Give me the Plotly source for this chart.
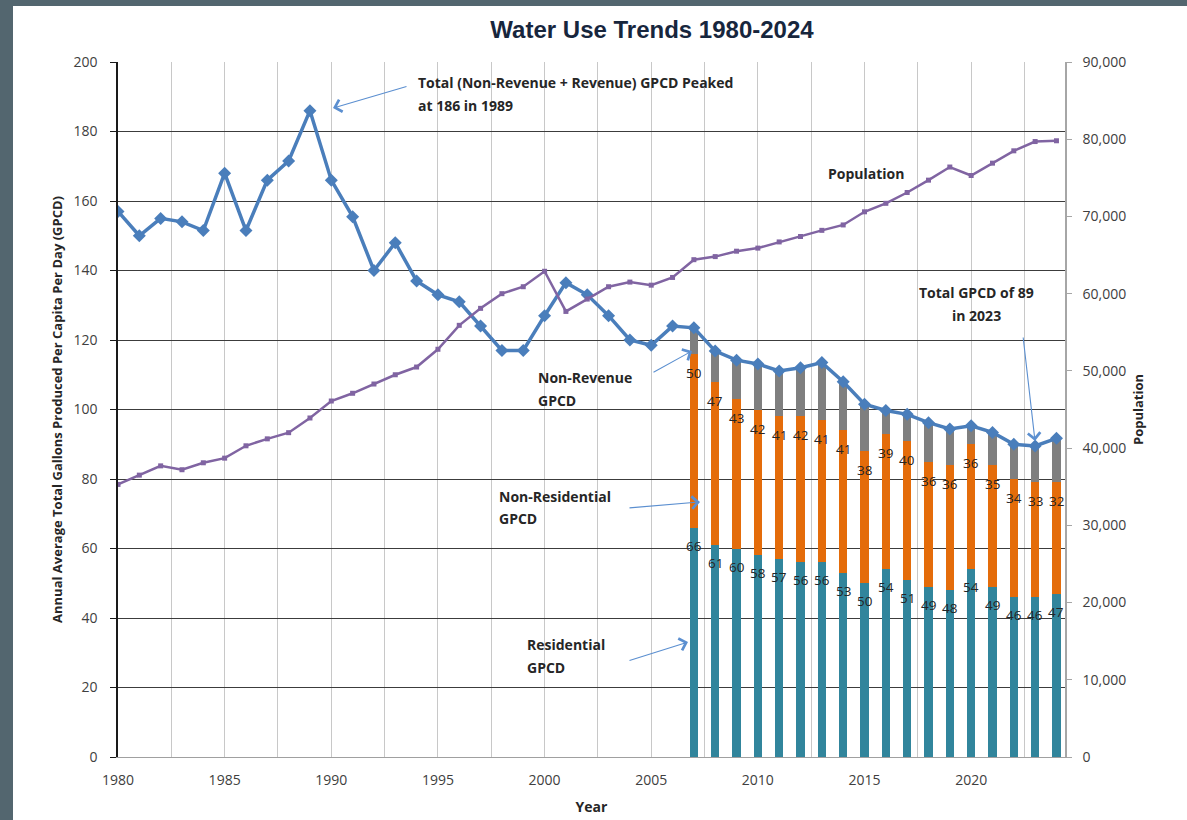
import plotly.graph_objects as go

# ---------------- data ----------------
years = list(range(1980, 2025))
total_gpcd = [157, 150, 155, 154, 151.5, 168, 151.5, 166, 171.5, 186,
              166, 155.5, 140, 148, 137, 133, 131, 124, 117, 117,
              127, 136.5, 133, 127, 120, 118.5, 124, 123.5, 116.8, 114.2,
              113.1, 111.1, 112, 113.5, 108, 101.5, 99.7, 98.6, 96.2, 94.4,
              95.3, 93.4, 90, 89.5, 91.7]
population = [35300, 36500, 37700, 37200, 38100, 38700, 40300, 41200, 42000, 43900,
              46100, 47100, 48300, 49500, 50500, 52800, 55900, 58100, 60000, 60900,
              62900, 57700, 59300, 60900, 61500, 61100, 62100, 64400, 64800, 65500,
              65900, 66700, 67400, 68200, 68900, 70600, 71700, 73100, 74700, 76400,
              75300, 76900, 78500, 79700, 79800]

bar_years = list(range(2007, 2025))
residential = [66, 61, 60, 58, 57, 56, 56, 53, 50, 54, 51, 49, 48, 54, 49, 46, 46, 47]
non_residential = [50, 47, 43, 42, 41, 42, 41, 41, 38, 39, 40, 36, 36, 36, 35, 34, 33, 32]
non_revenue = [7.5, 9, 11, 13, 13, 14, 16.5, 14, 13.5, 6.7, 7.6, 11.2, 10.4, 5.3, 9.4, 10, 10.5, 12.7]

x_ticks = [1980, 1985, 1990, 1995, 2000, 2005, 2010, 2015, 2020]

# ---------------- layout geometry ----------------
W, H = 1187, 820
PL, PR, PT, PB = 118, 1065, 62, 757
XMIN, XMAX = 1980, 2024.4
YMAX = 200


def X(px):
    return XMIN + (px - PL) * (XMAX - XMIN) / (PR - PL)


def Y(py):
    return (PB - py) * YMAX / (PB - PT)


def PX(px):
    return (px - PL) / (PR - PL)


def PY(py):
    return (PB - py) / (PB - PT)


TEAL = "#31859C"
ORANGE = "#E46C0A"
GRAY = "#7F7F7F"
BLUE = "#4A7EBB"
PURPLE = "#8064A2"
TXT = "#262626"
TICK = "#404040"
LBL_FONT = "Open Sans, Noto Sans, sans-serif"

fig = go.Figure()

fig.add_trace(go.Bar(x=bar_years, y=residential, name="Residential GPCD",
                     marker=dict(color=TEAL, line=dict(width=0)), width=0.38))
fig.add_trace(go.Bar(x=bar_years, y=non_residential, name="Non-Residential GPCD",
                     marker=dict(color=ORANGE, line=dict(width=0)), width=0.38))
fig.add_trace(go.Bar(x=bar_years, y=non_revenue, name="Non-Revenue GPCD",
                     marker=dict(color=GRAY, line=dict(width=0)), width=0.38))

fig.add_trace(go.Scatter(x=years, y=total_gpcd, mode="lines+markers", name="Total GPCD",
                         line=dict(color=BLUE, width=3.5),
                         marker=dict(symbol="diamond", size=10, color=BLUE)))
fig.add_trace(go.Scatter(x=years, y=population, mode="lines+markers", name="Population",
                         yaxis="y2", line=dict(color=PURPLE, width=2.5),
                         marker=dict(symbol="square", size=5, color=PURPLE)))

annotations = []
# data labels
for yr, r, n in zip(bar_years, residential, non_residential):
    annotations.append(dict(x=yr, y=r, xref="x", yref="y", text=str(r), showarrow=False,
                            yshift=-18, font=dict(family=LBL_FONT, size=13.5, color=TXT)))
    annotations.append(dict(x=yr, y=r + n, xref="x", yref="y", text=str(n), showarrow=False,
                            yshift=-19, font=dict(family=LBL_FONT, size=13.5, color=TXT)))

ann_font = dict(family=LBL_FONT, size=14, color=TXT, weight="bold")


def text_at(txt, px, py, anchor="left"):
    annotations.append(dict(x=X(px), y=Y(py), xref="x", yref="y", text=txt, showarrow=False,
                            xanchor=anchor, yanchor="middle", font=ann_font))


def arrow(hx, hy, tx, ty):
    annotations.append(dict(x=X(hx), y=Y(hy), ax=X(tx), ay=Y(ty), xref="x", yref="y",
                            axref="x", ayref="y", text="", showarrow=True,
                            arrowhead=4, arrowsize=2.2, arrowwidth=1.1, arrowcolor="#5B8FD0"))


text_at("Total (Non-Revenue + Revenue) GPCD Peaked", 416, 82)
text_at("at 186 in 1989", 416, 105)
arrow(333, 108, 408, 86)

text_at("Population", 866, 173, "center")

text_at("Total GPCD of 89", 976, 292, "center")
text_at("in 2023", 976, 315, "center")
arrow(1035, 441, 1023, 336)

text_at("Non-Revenue", 536, 377)
text_at("GPCD", 536, 400)
arrow(692, 351, 652, 373)

text_at("Non-Residential", 497, 496)
text_at("GPCD", 497, 518)
arrow(700, 502, 628, 508)

text_at("Residential", 525, 644)
text_at("GPCD", 525, 667)
arrow(688, 642, 628, 661)

shapes = [dict(type="rect", xref="paper", yref="paper", layer="below",
               x0=PX(13), x1=PX(W + 5), y0=PY(H + 5), y1=PY(6),
               fillcolor="white", line=dict(width=0))]

fig.update_layout(
    width=W, height=H,
    margin=dict(l=PL, r=W - PR, t=PT, b=H - PB, autoexpand=False),
    paper_bgcolor="#53666F",
    plot_bgcolor="white",
    barmode="stack",
    bargap=0,
    showlegend=False,
    title=dict(text="<b>Water Use Trends 1980-2024</b>", x=652 / W, xanchor="center",
               y=1 - 30 / H, yanchor="middle", yref="container", xref="container",
               font=dict(family="Liberation Sans Narrow, Arial Narrow, Liberation Sans, sans-serif",
                         size=24, color="#17263D")),
    xaxis=dict(range=[XMIN, XMAX], tickvals=x_ticks, ticktext=[str(v) for v in x_ticks],
               showgrid=True, gridcolor="#C8C8C8", gridwidth=1.3,
               minor=dict(dtick=2.5, tick0=1980, showgrid=True, gridcolor="#C8C8C8", gridwidth=1.3),
               showline=True, linecolor="#A0A0A0", linewidth=1.3,
               ticks="", ticklabelstandoff=10, zeroline=False,
               tickfont=dict(family=LBL_FONT, size=14, color=TICK),
               title=dict(text="<b>Year</b>", standoff=14,
                          font=dict(family=LBL_FONT, size=14, color=TXT))),
    yaxis=dict(range=[0, YMAX], dtick=20, showgrid=True, gridcolor="#3C3C3C", gridwidth=1.3,
               showline=True, linecolor="#1A1A1A", linewidth=1.5, zeroline=False,
               ticks="outside", ticklen=6, tickcolor="#1A1A1A", tickwidth=1.3,
               ticklabelstandoff=10,
               tickfont=dict(family=LBL_FONT, size=14, color=TICK),
               title=dict(text="<b>Annual Average Total Gallons Produced Per Capita Per Day (GPCD)</b>",
                          standoff=8, font=dict(family=LBL_FONT, size=13, color=TXT))),
    yaxis2=dict(range=[0, 90000], dtick=10000, overlaying="y", side="right",
                showgrid=False, zeroline=False, tickformat=",",
                showline=True, linecolor="#A6A6A6", linewidth=1.5,
                ticks="outside", ticklen=5, tickcolor="#A6A6A6", tickwidth=1.3,
                ticklabelstandoff=8,
                tickfont=dict(family=LBL_FONT, size=14, color=TICK),
                title=dict(text="<b>Population</b>", standoff=9,
                           font=dict(family=LBL_FONT, size=13, color=TXT))),
    annotations=annotations,
    shapes=shapes,
)

fig.write_html(
    "out.html",
    config={"displayModeBar": False},
    post_script="document.body.style.margin='0';document.body.style.padding='0';"
                "document.body.style.overflow='hidden';",
)
